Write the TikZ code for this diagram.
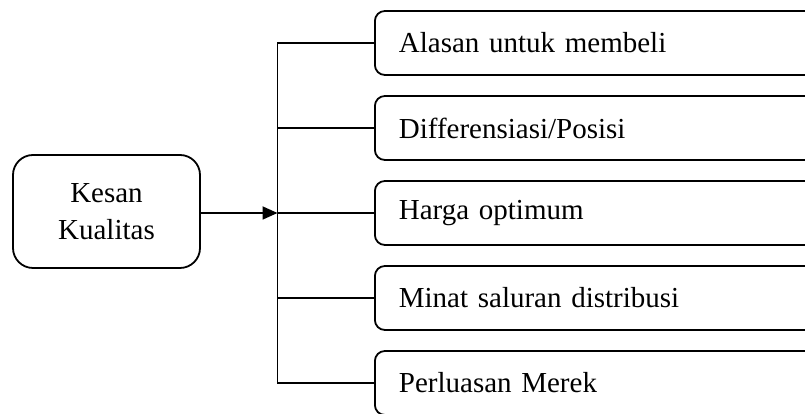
\documentclass[tikz,border=0pt]{standalone}
\usepackage{fontspec}
\setmainfont{Liberation Serif}
\usetikzlibrary{arrows.meta}
\tikzset{
  line/.style={line width=1.8pt, black},
  mainbox/.style={draw, line width=1.8pt, rounded corners=20pt, minimum width=187pt, minimum height=113pt, align=center, inner sep=0pt, font=\fontsize{29}{37}\selectfont},
  itembox/.style={draw, line width=1.8pt, rounded corners=10pt, minimum width=460pt, minimum height=64pt, text width=412pt, align=left, inner xsep=24pt, inner ysep=0pt, anchor=west, font=\fontsize{29}{34}\selectfont},
}
\begin{document}
\begin{tikzpicture}[x=1pt,y=1pt]
\useasboundingbox (0,0) rectangle (805,414);
\clip (0,0) rectangle (805,414);
\node[mainbox] (kq) at (106.5,202.5) {Kesan\\Kualitas};
\node[itembox] (b1) at (374,371) {Alasan untuk membeli};
\node[itembox] (b2) at (374,286) {Differensiasi/Posisi};
\node[itembox] (b3) at (374,201) {Harga optimum};
\node[itembox] (b4) at (374,116) {Minat saluran distribusi};
\node[itembox] (b5) at (374,31) {Perluasan Merek};
\coordinate (spine) at (277.5,201);
\draw[line] (b1.west) -| (spine);
\draw[line] (b5.west) -| (spine);
\draw[line] (b2.west) -| (spine);
\draw[line] (b4.west) -| (spine);
\draw[line] (b3.west) -- (spine);
\draw[line, -{Triangle[length=15pt,width=13pt]}] (kq.east |- spine) -- (spine);
\end{tikzpicture}
\end{document}
